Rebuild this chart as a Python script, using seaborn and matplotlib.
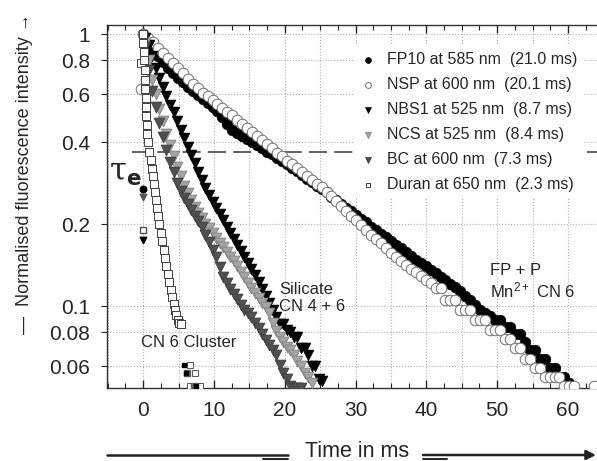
import numpy as np
import pandas as pd
import matplotlib.pyplot as plt
import seaborn as sns
from matplotlib.lines import Line2D
from matplotlib.ticker import MultipleLocator, NullLocator

sns.set_style('ticks')
plt.rcParams['font.family'] = ['Liberation Sans', 'DejaVu Sans']
plt.rcParams['mathtext.default'] = 'regular'

# --- data (time in ms, normalised intensity) ---
# circles: sampled every 0.7 ms from t = 0
fp10_dt = 0.7
fp10_v = [1.000, 0.925, 0.870, 0.828, 0.788, 0.751, 0.721, 0.692, 0.664, 0.640,
          0.617, 0.596, 0.576, 0.558, 0.540, 0.522, 0.496, 0.468, 0.445, 0.432,
          0.423, 0.411, 0.400, 0.392, 0.380, 0.370, 0.362, 0.350, 0.342, 0.333,
          0.322, 0.313, 0.304, 0.294, 0.286, 0.276, 0.269, 0.262, 0.252, 0.245,
          0.238, 0.230, 0.223, 0.216, 0.209, 0.203, 0.196, 0.190, 0.184, 0.179,
          0.173, 0.168, 0.163, 0.158, 0.153, 0.148, 0.144, 0.140, 0.136, 0.132,
          0.128, 0.125, 0.121, 0.118, 0.114, 0.109, 0.105, 0.101, 0.097, 0.094,
          0.092, 0.089, 0.089, 0.084, 0.084, 0.079, 0.079, 0.074, 0.069, 0.069,
          0.064, 0.064, 0.059, 0.059, 0.055, 0.055, 0.052]

nsp_dt = 0.7
nsp_v = [1.000, 0.966, 0.932, 0.892, 0.854, 0.817, 0.782, 0.749, 0.717, 0.686,
         0.658, 0.631, 0.609, 0.590, 0.571, 0.553, 0.536, 0.519, 0.503, 0.485,
         0.469, 0.453, 0.437, 0.422, 0.407, 0.393, 0.380, 0.367, 0.355, 0.343,
         0.333, 0.322, 0.311, 0.301, 0.291, 0.282, 0.273, 0.263, 0.253, 0.243,
         0.233, 0.224, 0.215, 0.207, 0.198, 0.191, 0.183, 0.176, 0.170, 0.163,
         0.157, 0.152, 0.147, 0.142, 0.137, 0.133, 0.129, 0.125, 0.122, 0.117,
         0.117, 0.105, 0.105, 0.105, 0.097, 0.097, 0.097, 0.089, 0.089, 0.089,
         0.082, 0.082, 0.082, 0.076, 0.076, 0.070, 0.070, 0.064, 0.064, 0.059,
         0.059, 0.055, 0.055, 0.055, 0.055, 0.051, 0.051, 0.051, 0.046, 0.046,
         0.046, 0.051]
nsp_pre_t = [-0.3]
nsp_pre_v = [0.63]

# triangles: sampled every 0.5 ms from t = 0.3
tri_t0, tri_dt = 0.3, 0.5
nbs1_v = [0.97, 0.91, 0.83, 0.75, 0.69, 0.64, 0.59, 0.55, 0.515, 0.48,
          0.445, 0.415, 0.385, 0.36, 0.335, 0.31, 0.29, 0.272, 0.256, 0.242,
          0.23, 0.218, 0.207, 0.196, 0.186, 0.177, 0.168, 0.16, 0.152, 0.144,
          0.137, 0.13, 0.123, 0.116, 0.109, 0.103, 0.097, 0.091, 0.086, 0.086,
          0.082, 0.080, 0.077, 0.077, 0.070, 0.070, 0.066, 0.060, 0.060, 0.054,
          0.053]
ncs_v = [0.93, 0.80, 0.68, 0.60, 0.53, 0.48, 0.43, 0.39, 0.355, 0.325,
         0.30, 0.277, 0.26, 0.245, 0.232, 0.22, 0.21, 0.201, 0.193, 0.185,
         0.178, 0.171, 0.165, 0.158, 0.152, 0.146, 0.14, 0.134, 0.128, 0.122,
         0.117, 0.112, 0.107, 0.103, 0.099, 0.094, 0.087, 0.081, 0.077, 0.074,
         0.071, 0.069, 0.066, 0.063, 0.060, 0.057, 0.055, 0.052]
bc_v = [0.90, 0.74, 0.62, 0.54, 0.47, 0.42, 0.375, 0.34, 0.31, 0.283,
        0.265, 0.25, 0.237, 0.225, 0.215, 0.205, 0.195, 0.183, 0.172, 0.161,
        0.151, 0.139, 0.128, 0.122, 0.116, 0.111, 0.106, 0.101, 0.097, 0.094,
        0.091, 0.087, 0.083, 0.079, 0.075, 0.072, 0.069, 0.066, 0.061, 0.057,
        0.054, 0.051, 0.050, 0.050, 0.050]

duran_t = [-0.3, 0.0, 0.05, 0.1, 0.15, 0.2, 0.25, 0.3, 0.35, 0.4, 0.45, 0.5, 0.6,
           0.75, 0.9, 1.05, 1.2, 1.35, 1.5, 1.65, 1.8, 1.95, 2.1, 2.3, 2.5, 2.7,
           2.9, 3.1, 3.3, 3.5, 3.7, 3.9, 4.1, 4.3, 4.5, 4.7, 4.9, 5.1, 5.35]
duran_v = [0.78, 1.0, 0.93, 0.86, 0.80, 0.74, 0.68, 0.63, 0.58, 0.54, 0.50, 0.465, 0.43,
           0.40, 0.37, 0.345, 0.32, 0.30, 0.28, 0.262, 0.245, 0.23, 0.215, 0.20, 0.186, 0.173,
           0.161, 0.150, 0.140, 0.131, 0.123, 0.115, 0.108, 0.102, 0.097, 0.093, 0.089, 0.087, 0.086]

# small marks next to tau_e and the cluster marks near the bottom
tau_circle = (0.0, 0.269)
tau_tri_grey = (0.0, 0.252)
tau_square = (0.0, 0.19)
tau_tri_black = (0.0, 0.175)
cluster_white_t = [6.6, 7.3, 6.6, 8.05]
cluster_white_v = [0.0607, 0.0567, 0.0508, 0.0508]
cluster_dark_t = [6.2, 7.2]
cluster_dark_v = [0.0567, 0.0508]
cluster_black_t = [5.8, 6.0, 7.5]
cluster_black_v = [0.0607, 0.0567, 0.0508]

labels = ['FP10 at 585 nm  (21.0 ms)', 'NSP at 600 nm  (20.1 ms)',
          'NBS1 at 525 nm  (8.7 ms)', 'NCS at 525 nm  (8.4 ms)',
          'BC at 600 nm  (7.3 ms)', 'Duran at 650 nm  (2.3 ms)']

x_ticks = [0, 10, 20, 30, 40, 50, 60]
y_ticks = [0.06, 0.08, 0.1, 0.2, 0.4, 0.6, 0.8, 1]
y_ticklabels = ['0.06', '0.08', '0.1', '0.2', '0.4', '0.6', '0.8', '1']
inv_e = 0.368


def grid_t(t0, dt, vals):
    return np.round(t0 + dt * np.arange(len(vals)), 2)


fig = plt.figure(figsize=(5.97, 4.61), dpi=100)
ax = fig.add_axes([107 / 597, 1 - 388 / 461, 490 / 597, 363 / 461])
ax.set_yscale('log')

# grid (dotted) and 1/e line
for xv in range(-5, 65, 5):
    ax.axvline(xv, color='#b0b0b0', ls=':', lw=0.8, zorder=0)
for yv in y_ticks:
    ax.axhline(yv, color='#b0b0b0', ls=':', lw=0.8, zorder=0)
ax.hlines(inv_e, -1.6, 64.1, colors='#555555', linestyles=(0, (10, 4)), lw=1.3, zorder=1)

sns.scatterplot(x=grid_t(0, fp10_dt, fp10_v), y=fp10_v, marker='o', s=58,
                color='black', edgecolor='black', linewidth=0.5, ax=ax,
                label=labels[0], zorder=3)
sns.scatterplot(x=np.concatenate([nsp_pre_t, grid_t(0, nsp_dt, nsp_v)]),
                y=nsp_pre_v + nsp_v, marker='o', s=58, color='white',
                edgecolor='#707070', linewidth=0.7, ax=ax, label=labels[1], zorder=3)
sns.scatterplot(x=grid_t(tri_t0, tri_dt, nbs1_v), y=nbs1_v, marker='v', s=62,
                color='black', edgecolor='black', linewidth=0.4, ax=ax,
                label=labels[2], zorder=3)
sns.scatterplot(x=grid_t(tri_t0, tri_dt, ncs_v), y=ncs_v, marker='v', s=62,
                color='#a4a4a4', edgecolor='#7a7a7a', linewidth=0.5, ax=ax,
                label=labels[3], zorder=3)
sns.scatterplot(x=grid_t(tri_t0, tri_dt, bc_v), y=bc_v, marker='v', s=62,
                color='#505050', edgecolor='#3a3a3a', linewidth=0.5, ax=ax,
                label=labels[4], zorder=3)
sns.scatterplot(x=duran_t, y=duran_v, marker='s', s=34, color='white',
                edgecolor='#404040', linewidth=0.7, ax=ax, label=labels[5], zorder=4)

# tau_e marks
ax.scatter(*tau_circle, marker='o', s=22, color='black', zorder=4)
ax.scatter(*tau_tri_grey, marker='v', s=22, color='#555555', zorder=4)
ax.scatter(*tau_square, marker='s', s=20, facecolor='white', edgecolor='#555555', zorder=4)
ax.scatter(*tau_tri_black, marker='v', s=22, color='black', zorder=4)
ax.scatter(cluster_white_t, cluster_white_v, marker='s', s=22, facecolor='white',
           edgecolor='#555555', lw=0.7, zorder=4)
ax.scatter(cluster_dark_t, cluster_dark_v, marker='s', s=14, color='#606060', zorder=5)
ax.scatter(cluster_black_t, cluster_black_v, marker='s', s=10, color='black', zorder=5)

ax.set_xlim(-5.1, 64.1)
ax.set_ylim(0.05, 1.08)
ax.set_xticks(x_ticks)
ax.xaxis.set_minor_locator(MultipleLocator(2.5))
ax.set_yticks(y_ticks)
ax.set_yticklabels(y_ticklabels)
ax.yaxis.set_minor_locator(NullLocator())
ax.tick_params(axis='x', which='major', direction='in', length=6, top=True,
               labelsize=15, pad=9, width=1)
ax.tick_params(axis='x', which='minor', direction='in', length=3.5, top=True, width=0.8)
ax.tick_params(axis='y', which='major', direction='out', length=4, labelsize=15, pad=8)
for side in ['left', 'top', 'bottom']:
    ax.spines[side].set_color('#333333')
    ax.spines[side].set_linewidth(1.0)
ax.spines['right'].set_visible(False)
ax.set_xlabel('')
ax.set_ylabel('')

# annotations
ax.text(-4.8, 0.31, r'$\tau_{\mathbf{e}}$', fontsize=22, ha='left', va='center',
        family=['DejaVu Serif'])
ax.text(-0.3, 0.0732, 'CN 6 Cluster', fontsize=12, ha='left', va='center')
ax.text(19.2, 0.107, 'Silicate\nCN 4 + 6', fontsize=12, ha='left', va='center')
ax.text(49.0, 0.123, 'FP + P\nMn$^{2+}$ CN 6', fontsize=12, ha='left', va='center')

handles, labs = ax.get_legend_handles_labels()
leg = ax.legend(handles, labs, loc='upper left', bbox_to_anchor=(347 / 597, 1 - 38 / 461),
                bbox_transform=fig.transFigure, frameon=True, framealpha=1,
                facecolor='white', edgecolor='none', fontsize=11.5, markerscale=0.55,
                handlelength=0.8, handletextpad=0.8, labelspacing=0.62, borderpad=0.4,
                fancybox=False)
leg.set_zorder(6)

# axis titles with arrows
fig.text(25 / 597, 1 - 174 / 461, '—  Normalised fluorescence intensity →',
         rotation=90, ha='center', va='center', fontsize=13)
fig.text(357 / 597, 1 - 451 / 461, 'Time in ms', fontsize=15.5, ha='center', va='center')
fig.add_artist(Line2D([107 / 597, 288 / 597], [1 - 455 / 461] * 2, color='#222222',
                      lw=1.8, transform=fig.transFigure))
fig.add_artist(Line2D([263 / 597, 288 / 597], [1 - 459 / 461] * 2, color='#222222',
                      lw=1.4, transform=fig.transFigure))
fig.add_artist(Line2D([423 / 597, 447 / 597], [1 - 459 / 461] * 2, color='#222222',
                      lw=1.4, transform=fig.transFigure))
ax.annotate('', xy=(596, 6), xytext=(423, 6), xycoords='figure pixels',
            textcoords='figure pixels', annotation_clip=False,
            arrowprops=dict(arrowstyle='-|>', color='#222222', lw=1.8,
                            mutation_scale=14, shrinkA=0, shrinkB=0))

fig.savefig('out.png', dpi=100)
